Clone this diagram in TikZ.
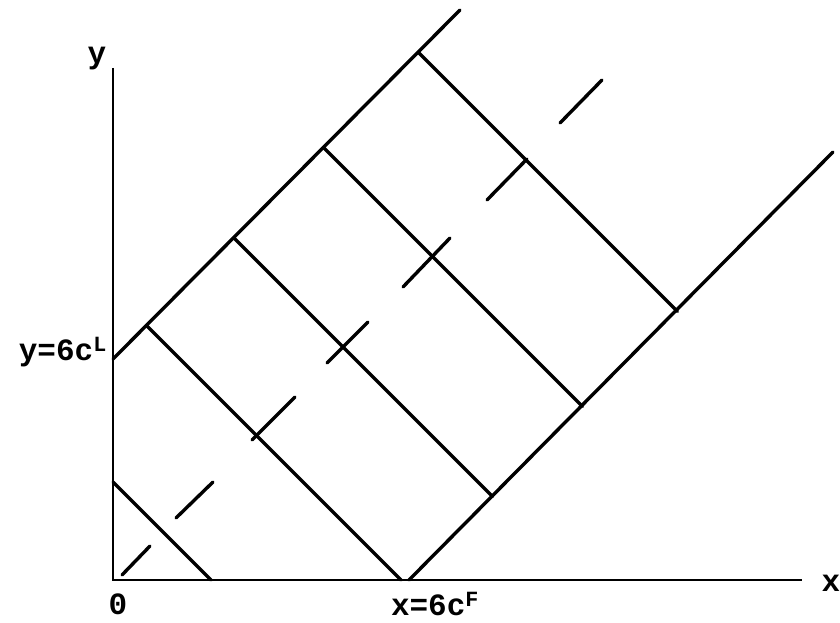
\documentclass[tikz,border=0pt]{standalone}
\usepackage{fontspec}
\setmonofont{Liberation Mono}
\begin{document}
\begin{tikzpicture}[x=1pt,y=1pt,
  axis/.style={line width=2.6pt},
  thick line/.style={line width=3.4pt, line cap=round},
  dashseg/.style={line width=3.4pt, line cap=round},
  lab/.style={font=\ttfamily\bfseries\fontsize{31}{33}\selectfont, inner sep=0pt}]
\useasboundingbox (-113,-42) rectangle (727,580);
% axes
\coordinate (O) at (0,0);
\coordinate (ytop) at (0,512);
\coordinate (xend) at (689,0);
\draw[axis] (ytop) -- (O) -- (xend);
% diagonals
\coordinate (u0) at (0,221);
\coordinate (u1) at (347,570);
\coordinate (l0) at (296,0);
\coordinate (l1) at (720,428);
\draw[thick line] (u0) -- (u1);
\draw[thick line] (l0) -- (l1);
% perpendicular lines
\draw[thick line] (0,98) -- (98,0);
\draw[thick line] (33.5,254.5) -- (288,0);
\draw[thick line] (121,342) -- (379.5,83.5);
\draw[thick line] (211,432) -- (469.5,173.5);
\draw[thick line] (306,527) -- (564.5,268.5);
% dashed diagonal
\draw[dashseg] (9,5) -- (37,34);
\draw[dashseg] (63,62) -- (100,98);
\draw[dashseg] (139,140) -- (182,183);
\draw[dashseg] (214,217) -- (255,258);
\draw[dashseg] (290,293) -- (337,342);
\draw[dashseg] (374,380) -- (414,421);
\draw[dashseg] (447,457) -- (489,500);
% labels
\node[lab] (ly) at (-16,521) {y};
\node[lab] (lx) at (718,-3) {x};
\node[lab] (l0lab) at (5,-24) {0};
\node[lab] (lxf) at (322,-24) {x=6c\textsuperscript{F}};
\node[lab, anchor=east] (lyl) at (-6,228) {y=6c\textsuperscript{L}};
\end{tikzpicture}
\end{document}
